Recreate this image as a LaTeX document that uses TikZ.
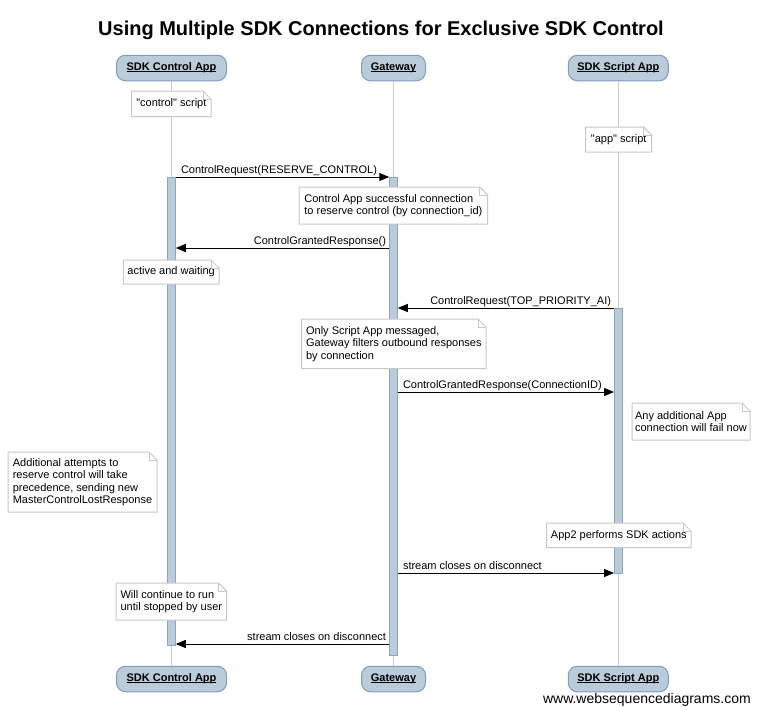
\documentclass[tikz,border=0pt]{standalone}
\usepackage{fontspec}
\setmainfont[Ligatures=TeXOff]{Liberation Sans}
\usetikzlibrary{arrows.meta}
\definecolor{partfill}{RGB}{186,203,218}
\definecolor{partdraw}{RGB}{128,155,192}
\definecolor{barfill}{RGB}{186,203,218}
\definecolor{bardraw}{RGB}{140,164,190}
\definecolor{lifegray}{RGB}{204,204,204}
\definecolor{notegray}{RGB}{200,200,200}
\newcommand\ulbl[1]{\setbox0\hbox{#1}\rlap{\rule[-1.5pt]{\wd0}{0.9pt}}\box0}
\newcommand\notefold[1]{%
  \draw[noteline] (#1.north west) -- ([xshift=-8pt]#1.north east) -- ([yshift=-8pt]#1.north east) -- (#1.south east) -- (#1.south west) -- cycle;
  \draw[noteline] ([xshift=-8pt]#1.north east) |- ([yshift=-8pt]#1.north east);}
\begin{document}
\begin{tikzpicture}[x=1pt,y=-1pt,
  part/.style={draw=partdraw, fill=partfill, line width=1pt, rounded corners=9pt, minimum height=25.5pt, inner sep=0pt, outer sep=0pt, font=\fontsize{11}{13}\selectfont\bfseries, text height=8pt, text depth=2.5pt},
  life/.style={draw=lifegray, line width=1pt},
  actbar/.style={draw=bardraw, fill=barfill, line width=1pt, minimum width=8.5pt, inner sep=0pt, outer sep=0pt, anchor=north},
  note/.style={fill=white, anchor=north west, inner sep=0pt, outer sep=0pt, align=left, font=\fontsize{11}{12.5}\selectfont},
  noteline/.style={draw=notegray, line width=1pt},
  msg/.style={line width=1pt, -{Triangle[length=10pt,width=8pt]}},
  lbl/.style={font=\fontsize{11}{13}\selectfont, inner sep=0pt, outer sep=0pt}
]
\useasboundingbox (0,0) rectangle (761,707);

% title
\node[anchor=base, inner sep=0pt, font=\fontsize{20}{24}\selectfont\bfseries] (title) at (381,35) {Using Multiple SDK Connections for Exclusive SDK Control};

% participants
\node[part, minimum width=110pt] (ctop) at (171.5,68) {\ulbl{SDK Control App}};
\node[part, minimum width=64pt] (gtop) at (393.5,68) {\ulbl{Gateway}};
\node[part, minimum width=100pt] (stop) at (618.3,68) {\ulbl{SDK Script App}};
\node[part, minimum width=110pt] (cbot) at (171.5,679) {\ulbl{SDK Control App}};
\node[part, minimum width=64pt] (gbot) at (393.5,679) {\ulbl{Gateway}};
\node[part, minimum width=100pt] (sbot) at (618.3,679) {\ulbl{SDK Script App}};

% lifelines
\draw[life] (ctop.south) -- (cbot.north);
\draw[life] (gtop.south) -- (gbot.north);
\draw[life] (stop.south) -- (sbot.north);

% activation bars
\node[actbar, minimum height=468pt] (cbar) at (171.5,177) {};
\node[actbar, minimum height=478pt] (gbar) at (393.5,177) {};
\node[actbar, minimum height=265pt] (sbar) at (618.3,308) {};

% message rows
\coordinate (m1) at (0,177);
\coordinate (m2) at (0,248);
\coordinate (m3) at (0,308);
\coordinate (m4) at (0,392);
\coordinate (m5) at (0,573);
\coordinate (m6) at (0,644);

\draw[msg] (cbar.east |- m1) -- (gbar.west |- m1);
\node[lbl, anchor=base west] (l1) at (181,173) {ControlRequest(RESERVE\_CONTROL)};

\draw[msg] (gbar.west |- m2) -- (cbar.east |- m2);
\node[lbl, anchor=base east] (l2) at (386,244.5) {ControlGrantedResponse()};

\draw[msg] (sbar.west |- m3) -- (gbar.east |- m3);
\node[lbl, anchor=base east] (l3) at (611,304.5) {ControlRequest(TOP\_PRIORITY\_AI)};

\draw[msg] (gbar.east |- m4) -- (sbar.west |- m4);
\node[lbl, anchor=base west] (l4) at (403,388.5) {ControlGrantedResponse(ConnectionID)};

\draw[msg] (gbar.east |- m5) -- (sbar.west |- m5);
\node[lbl, anchor=base west] (l5) at (403,569.5) {stream closes on disconnect};

\draw[msg] (gbar.west |- m6) -- (cbar.east |- m6);
\node[lbl, anchor=base east] (l6) at (386,640.5) {stream closes on disconnect};

% notes
\node[note, minimum width=79.3pt, minimum height=25.7pt] (n1) at (131.7,91) {"control" script};
\notefold{n1}
\node[note, minimum width=66pt, minimum height=25pt] (n2) at (585.7,127) {"app" script};
\notefold{n2}
\node[note, minimum width=188.7pt, minimum height=37pt] (n3) at (299,187) {Control App successful connection\\to reserve control (by connection\_id)};
\notefold{n3}
\node[note, minimum width=95.7pt, minimum height=24pt] (n4) at (123.3,260) {active and waiting};
\notefold{n4}
\node[note, minimum width=184.3pt, minimum height=49.7pt] (n5) at (301.7,319) {Only Script App messaged,\\Gateway filters outbound responses\\by connection};
\notefold{n5}
\node[note, minimum width=118pt, minimum height=37pt] (n6) at (632,403) {Any additional App\\connection will fail now};
\notefold{n6}
\node[note, minimum width=149pt, minimum height=60pt] (n7) at (8,452) {Additional attempts to\\reserve control will take\\precedence, sending new\\MasterControlLostResponse};
\notefold{n7}
\node[note, minimum width=144.3pt, minimum height=24.7pt] (n8) at (546.7,523) {App2 performs SDK actions};
\notefold{n8}
\node[note, minimum width=110.7pt, minimum height=37pt] (n9) at (116,583) {Will continue to run\\until stopped by user};
\notefold{n9}

% watermark
\node[anchor=base east, inner sep=0pt, font=\fontsize{14}{16}\selectfont] (wm) at (751,703.7) {www.websequencediagrams.com};
\end{tikzpicture}
\end{document}
